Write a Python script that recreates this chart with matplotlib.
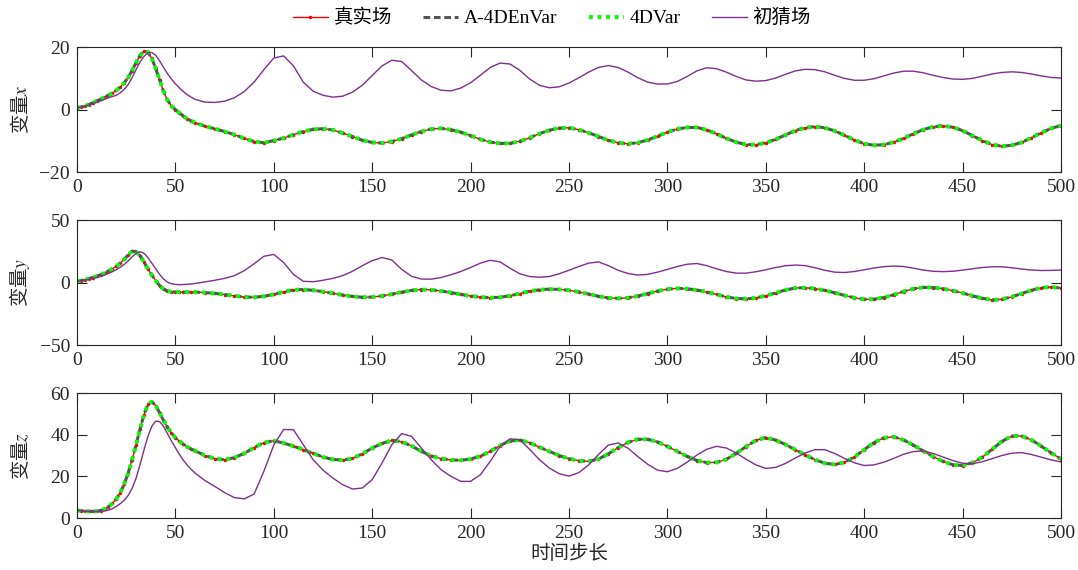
import numpy as np
import matplotlib.pyplot as plt

plt.rcParams['font.family'] = ['Liberation Serif', 'Noto Sans CJK SC']
plt.rcParams['mathtext.fontset'] = 'stix'
plt.rcParams['axes.unicode_minus'] = True

# 时间步：前 60 步每 2 步取一个值，之后每 5 步取一个值
steps = np.concatenate([np.arange(0, 60, 2), np.arange(60, 501, 5)])

# 真实场
true_x = [0.6, 0.8, 1.2, 1.6, 2.2, 2.8, 3.3, 4.0, 4.6, 5.3,
          6.2, 7.2, 8.6, 10.3, 12.5, 15.0, 17.3, 18.7, 18.4, 16.4,
          13.2, 9.5, 5.8, 3.0, 1.2, 0.0, -1.0, -2.0, -2.9, -3.6,
          -4.2, -5.3, -6.1, -7.0, -8.0, -9.2, -10.2, -10.6,
          -9.9, -9.1, -8.0, -7.0, -6.3, -6.1, -6.5, -7.5, -8.6, -9.8,
          -10.5, -10.7, -10.2, -9.3, -8.1, -7.0, -6.2, -6.0, -6.4, -7.2,
          -8.3, -9.5, -10.4, -10.8, -10.8, -10.1, -9.0, -7.7, -6.6, -5.9,
          -5.8, -6.4, -7.4, -8.6, -9.8, -10.6, -10.9, -10.6, -9.7, -8.5,
          -7.2, -6.2, -5.7, -5.7, -6.5, -7.7, -9.2, -10.4, -11.2, -11.2,
          -10.6, -9.5, -8.1, -6.7, -5.8, -5.4, -5.8, -6.8, -8.2, -9.7,
          -10.9, -11.4, -11.2, -10.4, -9.2, -7.7, -6.4, -5.5, -5.2, -5.6,
          -6.7, -8.3, -9.9, -11.2, -11.7, -11.4, -10.5, -9.0, -7.4, -6.0,
          -5.1]
true_y = [1.0, 1.6, 2.3, 3.1, 4.0, 5.0, 6.2, 7.6, 9.2, 11.0,
          13.0, 15.5, 18.5, 22.0, 25.0, 24.8, 21.5, 16.5, 11.0, 6.0,
          1.5, -2.5, -5.3, -6.8, -7.4, -7.6, -7.7, -7.7, -7.7, -7.7,
          -7.7, -8.0, -8.7, -9.6, -10.7, -11.6, -11.8, -11.0,
          -9.5, -7.5, -5.9, -5.6, -6.2, -7.3, -8.6, -10.0, -11.1, -11.8,
          -11.6, -10.7, -9.3, -7.7, -6.3, -5.6, -5.8, -6.8, -8.0, -9.5,
          -10.8, -11.7, -12.1, -11.8, -10.6, -8.8, -7.0, -5.8, -5.3, -5.5,
          -6.2, -7.5, -9.2, -11.0, -12.3, -12.7, -12.2, -10.8, -8.8, -6.8,
          -5.3, -4.7, -5.0, -6.0, -7.6, -9.5, -11.5, -12.8, -13.1, -12.3,
          -10.6, -8.3, -6.0, -4.4, -4.2, -4.9, -6.3, -8.2, -10.3, -12.2,
          -13.4, -13.3, -12.0, -9.8, -7.2, -5.0, -3.9, -4.0, -4.9, -6.5,
          -8.4, -10.6, -12.6, -14.0, -13.4, -11.5, -8.8, -6.2, -4.2, -3.6,
          -4.4]
true_z = [3.7, 3.5, 3.3, 3.2, 3.2, 3.3, 3.6, 4.3, 5.4, 7.0,
          9.2, 12.2, 16.3, 21.5, 28.0, 35.0, 42.5, 49.5, 54.5, 55.8,
          54.0, 50.5, 46.8, 43.5, 40.8, 38.6, 36.9, 35.4, 34.2, 33.1,
          32.3, 30.0, 28.5, 28.0, 29.0, 31.0, 33.8, 36.2,
          37.1, 36.0, 34.5, 32.8, 31.0, 29.3, 28.1, 27.8, 28.6, 30.8,
          33.6, 35.8, 37.3, 36.6, 34.6, 32.0, 29.8, 28.5, 27.9, 27.7,
          28.3, 29.7, 32.0, 34.8, 37.0, 37.4, 36.2, 34.0, 32.0, 30.0,
          28.5, 27.5, 27.2, 28.3, 30.8, 33.8, 36.3, 37.8, 37.8, 36.5,
          34.4, 32.0, 29.6, 27.6, 26.6, 26.7, 28.2, 31.0, 34.3, 37.3,
          38.6, 37.4, 35.3, 32.8, 30.3, 28.0, 26.3, 25.7, 26.7, 29.3,
          32.8, 36.2, 38.5, 39.0, 37.5, 35.0, 32.2, 29.5, 27.2, 25.6,
          25.2, 26.5, 29.2, 33.0, 36.8, 39.3, 39.4, 37.5, 34.5, 31.3,
          28.3]

# 初猜场
guess_x = [0.6, 0.8, 1.1, 1.5, 1.9, 2.4, 2.8, 3.3, 3.8, 4.2,
           4.6, 5.4, 6.5, 8.0, 10.2, 12.8, 15.2, 17.0, 18.2, 18.3,
           17.4, 15.6, 13.5, 11.5, 9.8, 8.3, 7.0, 5.8, 4.8, 4.0,
           3.3, 2.4, 2.3, 2.7, 3.8, 5.8, 8.8, 12.8,
           16.5, 17.2, 14.0, 8.8, 5.9, 4.6, 4.0, 4.3, 5.6, 7.8,
           10.9, 14.0, 15.8, 15.4, 12.5, 9.5, 7.4, 6.2, 6.0, 6.9,
           8.6, 11.0, 13.5, 14.9, 14.6, 12.6, 9.8, 7.8, 7.0, 7.3,
           8.5, 10.2, 12.0, 13.5, 14.1, 13.5, 12.0, 10.2, 8.8, 8.2,
           8.2, 9.0, 10.6, 12.4, 13.4, 13.1, 12.0, 10.6, 9.5, 9.1,
           9.3, 10.1, 11.3, 12.4, 12.9, 12.8, 12.1, 11.0, 10.0, 9.4,
           9.4, 9.9, 10.8, 11.7, 12.3, 12.3, 11.8, 11.0, 10.3, 9.8,
           9.7, 10.0, 10.7, 11.4, 11.9, 12.1, 11.9, 11.4, 10.8, 10.3,
           10.1]
guess_y = [1.0, 1.4, 1.9, 2.5, 3.2, 4.0, 4.9, 6.0, 7.3, 8.7,
           10.3, 12.2, 14.5, 17.2, 20.5, 23.5, 24.6, 23.5, 20.0, 15.5,
           11.0, 6.5, 2.8, 0.3, -1.0, -1.5, -1.7, -1.6, -1.4, -1.1,
           -0.8, 0.5, 1.8, 3.3, 5.5, 9.5, 15.0, 21.0,
           22.5, 16.0, 6.5, 1.0, 0.6, 1.8, 3.3, 5.5, 9.0, 13.5,
           17.5, 20.0, 18.0, 10.5, 5.0, 2.8, 2.7, 4.0, 6.2, 8.8,
           12.0, 15.5, 17.8, 16.5, 11.5, 7.0, 4.8, 4.2, 4.8, 7.0,
           9.8, 12.8, 15.5, 16.5, 13.5, 9.8, 7.2, 6.0, 6.5, 8.3,
           10.5, 12.8, 14.6, 15.2, 13.5, 11.0, 8.8, 7.5, 7.5, 8.6,
           10.2, 12.0, 13.4, 14.0, 13.5, 11.8, 9.8, 8.3, 8.0, 8.8,
           10.2, 11.6, 12.7, 13.2, 12.8, 11.5, 10.0, 9.0, 8.7, 9.0,
           9.9, 11.0, 12.0, 12.6, 12.6, 11.8, 10.8, 10.0, 9.6, 9.7,
           10.0]
guess_z = [3.7, 3.5, 3.3, 3.2, 3.1, 3.1, 3.2, 3.4, 3.8, 4.5,
           5.6, 6.9, 8.5, 10.8, 14.2, 19.0, 25.5, 32.5, 39.0, 44.0,
           46.5, 46.3, 44.0, 40.5, 37.0, 33.8, 30.6, 27.8, 25.4, 23.4,
           21.6, 18.0, 15.2, 12.2, 9.8, 9.2, 11.5, 22.5,
           35.0, 42.5, 42.4, 35.2, 28.0, 23.0, 19.2, 16.0, 13.9, 14.4,
           18.4, 26.4, 35.2, 40.5, 39.2, 33.6, 28.0, 23.2, 20.0, 17.6,
           17.6, 20.8, 27.2, 34.4, 38.0, 37.5, 33.0, 28.0, 24.0, 21.3,
           20.1, 21.8, 25.5, 30.5, 35.0, 36.0, 33.5, 29.5, 25.8, 23.0,
           22.2, 23.8, 26.8, 30.2, 33.0, 34.4, 33.6, 31.2, 28.2, 25.5,
           23.8, 24.3, 26.2, 28.8, 31.2, 32.8, 32.8, 31.0, 28.6, 26.5,
           25.2, 25.5, 26.8, 28.6, 30.6, 31.9, 32.2, 31.0, 29.3, 27.6,
           26.3, 26.1, 27.0, 28.5, 30.0, 31.1, 31.4, 30.5, 29.2, 27.9,
           26.9]

# 两种同化方法的分析场与真实场几乎重合
envar_x, envar_y, envar_z = true_x, true_y, true_z
var4d_x, var4d_y, var4d_z = true_x, true_y, true_z

panels = [
    ('x', true_x, envar_x, var4d_x, guess_x, (-20, 20), [-20, 0, 20]),
    ('y', true_y, envar_y, var4d_y, guess_y, (-50, 50), [-50, 0, 50]),
    ('z', true_z, envar_z, var4d_z, guess_z, (0, 60), [0, 20, 40, 60]),
]
bottoms = [0.698, 0.3947, 0.0912]

fig = plt.figure(figsize=(10.78, 5.70), dpi=100)
axes = []
for (name, tr, en, vd, gs, ylim, yticks), b in zip(panels, bottoms):
    ax = fig.add_axes([0.0714, b, 0.9128, 0.2193])
    ax.plot(steps, tr, color='red', lw=1.0, marker='.', ms=3, label='真实场')
    ax.plot(steps, en, color='#555555', lw=2.2, ls=(0, (2.2, 1.2)), label='A-4DEnVar')
    ax.plot(steps, vd, color='#00ff00', lw=2.8, ls=(0, (1, 1.2)), label='4DVar')
    ax.plot(steps, gs, color='#7E2F8E', lw=1.0, label='初猜场')
    ax.set_xlim(0, 500)
    ax.set_ylim(*ylim)
    ax.set_xticks(range(0, 501, 50))
    ax.set_yticks(yticks)
    ax.tick_params(direction='in', top=True, right=True, length=7, width=0.8,
                   colors='#262626', labelsize=14, pad=5)
    for sp in ax.spines.values():
        sp.set_color('#262626')
        sp.set_linewidth(0.8)
    ax.set_ylabel('变量$' + name + '$', fontsize=14, family='Noto Sans CJK SC', color='#262626')
    ax.yaxis.set_label_coords(-0.046, 0.5)
    axes.append(ax)

axes[2].set_xlabel('时间步长', fontsize=14, color='#262626', labelpad=2)

handles, labels = axes[0].get_legend_handles_labels()
fig.legend(handles, labels, loc='center', bbox_to_anchor=(0.512, 0.968), ncol=4,
           frameon=False, fontsize=14, handlelength=1.8, handletextpad=0.3,
           columnspacing=1.6)

fig.savefig('out.png', dpi=100)
